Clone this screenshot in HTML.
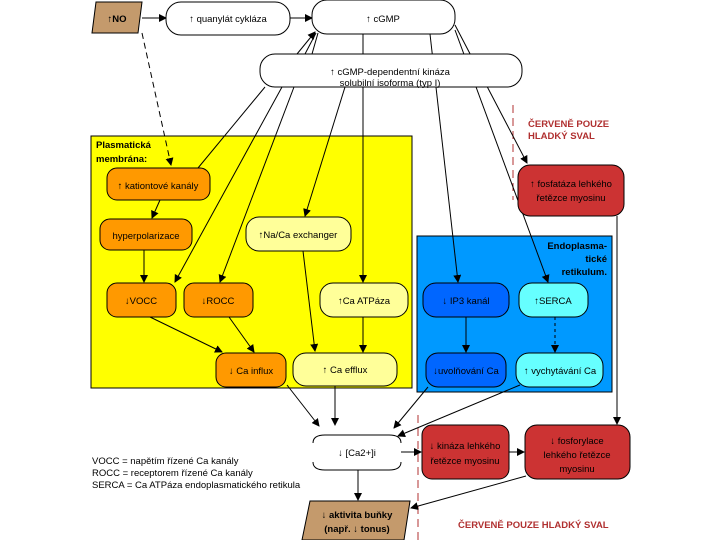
<!DOCTYPE html>
<html><head><meta charset="utf-8"><style>
html,body{margin:0;padding:0;background:#fff;}
svg{display:block;font-family:"Liberation Sans","DejaVu Sans",sans-serif;}
text{font-size:9.5px;fill:#000;}
.b{font-weight:bold;}
.r{fill:#b03030;font-weight:bold;font-size:9.5px;}
</style></head><body>
<svg width="720" height="540" viewBox="0 0 720 540" xmlns="http://www.w3.org/2000/svg">
<defs><marker id="a" markerWidth="8" markerHeight="8" refX="7" refY="4" orient="auto" markerUnits="userSpaceOnUse"><path d="M0,0 L8,4 L0,8 z" fill="#000"/></marker></defs>
<rect x="91" y="136" width="321" height="252" fill="#ffff00" stroke="#000"/>
<rect x="417" y="236" width="195" height="156" fill="#0099ff" stroke="#000"/>
<line x1="513" y1="105" x2="513" y2="200" stroke="#b03030" stroke-dasharray="8,5"/>
<line x1="418" y1="415" x2="418" y2="540" stroke="#b03030" stroke-dasharray="8,5"/>
<g stroke="#000" stroke-width="1" fill="none">
<line x1="142" y1="18" x2="166" y2="18" marker-end="url(#a)"/>
<line x1="290" y1="18" x2="312" y2="18" marker-end="url(#a)"/>
<line x1="142" y1="33" x2="171" y2="165" stroke-dasharray="6,4" marker-end="url(#a)"/>
<line x1="363" y1="34" x2="363" y2="282" marker-end="url(#a)"/>
<line x1="265" y1="87" x2="198" y2="168"/>
<line x1="282" y1="87" x2="175" y2="282" marker-end="url(#a)"/>
<line x1="294" y1="87" x2="220" y2="282" marker-end="url(#a)"/>
<line x1="345" y1="87" x2="305" y2="216" marker-end="url(#a)"/>
<line x1="297" y1="54" x2="315" y2="32" marker-end="url(#a)"/>
<line x1="305" y1="54" x2="316" y2="33"/>
<line x1="312" y1="54" x2="318" y2="33"/>
<line x1="430" y1="34" x2="458" y2="282" marker-end="url(#a)"/>
<line x1="455" y1="30" x2="548" y2="282" marker-end="url(#a)"/>
<line x1="455" y1="25" x2="527" y2="163" marker-end="url(#a)"/>
<line x1="160" y1="200" x2="152" y2="218" marker-end="url(#a)"/>
<line x1="144" y1="250" x2="144" y2="282" marker-end="url(#a)"/>
<line x1="150" y1="317" x2="222" y2="352" marker-end="url(#a)"/>
<line x1="229" y1="317" x2="254" y2="352" marker-end="url(#a)"/>
<line x1="303" y1="251" x2="315" y2="351" marker-end="url(#a)"/>
<line x1="363" y1="317" x2="363" y2="352" marker-end="url(#a)"/>
<line x1="466" y1="317" x2="466" y2="352" marker-end="url(#a)"/>
<line x1="555" y1="317" x2="555" y2="352" stroke-dasharray="3,3" marker-end="url(#a)"/>
<line x1="287" y1="385" x2="319" y2="426" marker-end="url(#a)"/>
<line x1="335" y1="386" x2="335" y2="425" marker-end="url(#a)"/>
<line x1="428" y1="387" x2="394" y2="428" marker-end="url(#a)"/>
<line x1="520" y1="385" x2="398" y2="436" marker-end="url(#a)"/>
<line x1="617" y1="216" x2="617" y2="424" marker-end="url(#a)"/>
<line x1="401" y1="452" x2="421" y2="452" marker-end="url(#a)"/>
<line x1="509" y1="452" x2="524" y2="452" marker-end="url(#a)"/>
<line x1="358" y1="470" x2="358" y2="500" marker-end="url(#a)"/>
<line x1="526" y1="476" x2="411" y2="508" marker-end="url(#a)"/>
</g>
<g stroke="#000" stroke-width="1">
<polygon points="96,2 142,2 138,33 92,33" fill="#c49a6c"/>
<rect x="166" y="2" width="124" height="33" rx="15" fill="#fff"/>
<rect x="312" y="0" width="143" height="34" rx="15" fill="#fff"/>
<rect x="260" y="54" width="262" height="33" rx="15" fill="#fff"/>
<rect x="107" y="168" width="103" height="32" rx="10" fill="#ff9900"/>
<rect x="518" y="165" width="106" height="51" rx="12" fill="#cc3333"/>
<rect x="100" y="219" width="92" height="31" rx="10" fill="#ff9900"/>
<rect x="246" y="217" width="105" height="34" rx="13" fill="#ffff99"/>
<rect x="107" y="283" width="69" height="34" rx="10" fill="#ff9900"/>
<rect x="184" y="283" width="69" height="34" rx="10" fill="#ff9900"/>
<rect x="320" y="283" width="88" height="34" rx="13" fill="#ffff99"/>
<rect x="423" y="283" width="86" height="34" rx="13" fill="#0066ff"/>
<rect x="519" y="283" width="69" height="34" rx="13" fill="#66ffff"/>
<rect x="216" y="353" width="70" height="34" rx="10" fill="#ff9900"/>
<rect x="293" y="353" width="104" height="33" rx="13" fill="#ffff99"/>
<rect x="426" y="353" width="80" height="34" rx="12" fill="#0066ff"/>
<rect x="516" y="353" width="87" height="34" rx="13" fill="#66ffff"/>
<rect x="422" y="425" width="87" height="54" rx="10" fill="#cc3333"/>
<rect x="525" y="425" width="105" height="54" rx="12" fill="#cc3333"/>
<polygon points="310,501 410,501 404,540 302,540" fill="#c49a6c"/>
<path d="M313,443 Q313,435 325,435 L389,435 Q401,435 401,443 M313,462 Q313,470 325,470 L389,470 Q401,470 401,462" fill="none"/>
</g>
<text x="117" y="22" text-anchor="middle" class="b">↑NO</text>
<text x="228" y="22" text-anchor="middle">↑ quanylát cykláza</text>
<text x="383" y="22" text-anchor="middle">↑ cGMP</text>
<text x="390" y="75" text-anchor="middle">↑ cGMP-dependentní kináza</text>
<text x="390" y="86" text-anchor="middle">solubilní isoforma (typ I)</text>
<text x="96" y="148" class="b">Plasmatická</text>
<text x="96" y="162" class="b">membrána:</text>
<text x="158" y="189" text-anchor="middle">↑ kationtové kanály</text>
<text x="571" y="187" text-anchor="middle">↑ fosfatáza lehkého</text>
<text x="571" y="201" text-anchor="middle">řetězce myosinu</text>
<text x="528" y="127" class="r">ČERVENĚ POUZE</text>
<text x="528" y="139" class="r">HLADKÝ SVAL</text>
<text x="146" y="239" text-anchor="middle">hyperpolarizace</text>
<text x="298" y="238" text-anchor="middle">↑Na/Ca exchanger</text>
<text x="607" y="249" text-anchor="end" class="b">Endoplasma-</text>
<text x="607" y="262" text-anchor="end" class="b">tické</text>
<text x="607" y="275" text-anchor="end" class="b">retikulum.</text>
<text x="141" y="304" text-anchor="middle">↓VOCC</text>
<text x="218" y="304" text-anchor="middle">↓ROCC</text>
<text x="364" y="304" text-anchor="middle">↑Ca ATPáza</text>
<text x="466" y="304" text-anchor="middle">↓ IP3 kanál</text>
<text x="553" y="304" text-anchor="middle">↑SERCA</text>
<text x="251" y="374" text-anchor="middle">↓ Ca influx</text>
<text x="345" y="373" text-anchor="middle">↑ Ca efflux</text>
<text x="466" y="374" text-anchor="middle">↓uvolňování Ca</text>
<text x="560" y="374" text-anchor="middle">↑ vychytávání Ca</text>
<text x="357" y="456" text-anchor="middle">↓ [Ca2+]i</text>
<text x="465" y="449" text-anchor="middle">↓ kináza lehkého</text>
<text x="465" y="464" text-anchor="middle">řetězce myosinu</text>
<text x="577" y="444" text-anchor="middle">↓ fosforylace</text>
<text x="577" y="458" text-anchor="middle">lehkého řetězce</text>
<text x="577" y="472" text-anchor="middle">myosinu</text>
<text x="92" y="464">VOCC = napětím řízené Ca kanály</text>
<text x="92" y="476">ROCC = receptorem řízené Ca kanály</text>
<text x="92" y="488">SERCA = Ca ATPáza endoplasmatického retikula</text>
<text x="357" y="518" text-anchor="middle" class="b">↓ aktivita buňky</text>
<text x="357" y="532" text-anchor="middle" class="b">(např. ↓ tonus)</text>
<text x="458" y="528" class="r">ČERVENĚ POUZE HLADKÝ SVAL</text>
</svg>
</body></html>
